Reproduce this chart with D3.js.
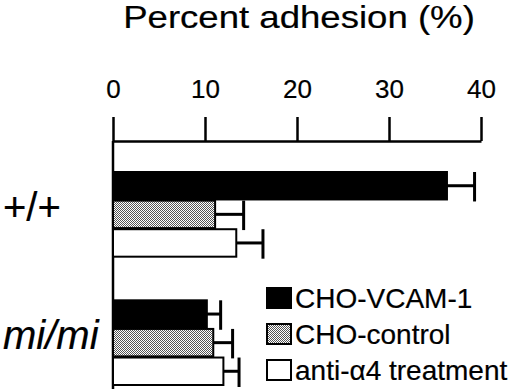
<!DOCTYPE html>
<html>
<head>
<meta charset="utf-8">
<script src="https://cdn.jsdelivr.net/npm/d3@7"></script>
<style>
  body { margin: 0; background: #fff; }
  svg { display: block; font-family: "Liberation Sans", Arial, Helvetica, sans-serif; }
  text { stroke: #000; stroke-width: 0.2px; }
</style>
</head>
<body>
<div id="chart"></div>
<script>
// data
const groups = ["+/+", "mi/mi"];
const seriesKeys = ["CHO-VCAM-1", "CHO-control", "anti-\u03b14 treatment"];
const meanWT = [36.3, 11.1, 13.4];
const errWT = [3.0, 3.1, 2.9];
const meanMi = [10.2, 10.9, 12.0];
const errMi = [1.5, 2.1, 1.7];
const xTicks = [0, 10, 20, 30, 40];

const width = 520, height = 389;
const margin = { top: 141, left: 113, right: 39, bottom: 4 };

const rows = [];
groups.forEach((g, gi) => {
  const means = gi === 0 ? meanWT : meanMi;
  const errs = gi === 0 ? errWT : errMi;
  seriesKeys.forEach((k, i) => rows.push({ group: g, key: k, value: means[i], err: errs[i] }));
});

const svg = d3.select("#chart").append("svg")
  .attr("width", width).attr("height", height);

const defs = svg.append("defs");
const pat = defs.append("pattern")
  .attr("id", "dots").attr("patternUnits", "userSpaceOnUse")
  .attr("width", 2).attr("height", 2);
pat.append("rect").attr("width", 2).attr("height", 2).attr("fill", "#fff");
pat.append("rect").attr("width", 1).attr("height", 1).attr("fill", "#555");
pat.append("rect").attr("x", 1).attr("y", 1).attr("width", 1).attr("height", 1).attr("fill", "#555");

const fills = d3.scaleOrdinal().domain(seriesKeys).range(["#000", "url(#dots)", "#fff"]);

const x = d3.scaleLinear().domain([0, 40]).range([margin.left, width - margin.right]);
const y0 = d3.scaleBand().domain(groups).range([172, 385]).paddingInner(0.34);
const y1 = d3.scaleBand().domain(seriesKeys).range([0, y0.bandwidth()]).paddingInner(0.04);

// title
svg.append("text")
  .attr("transform", `translate(${(x(0) + x(40)) / 2 + 2},28) scale(1.18,1)`)
  .attr("text-anchor", "middle")
  .attr("font-size", 31)
  .text("Percent adhesion (%)");

// top axis
svg.append("g")
  .attr("transform", `translate(0,${margin.top})`)
  .call(d3.axisTop(x).tickValues(xTicks).tickSize(24).tickPadding(19).tickSizeOuter(0))
  .call(g => g.select(".domain").attr("stroke-width", 2.5))
  .call(g => g.selectAll(".tick line").attr("stroke-width", 2.5))
  .call(g => g.selectAll(".tick text").attr("font-size", 26).attr("fill", "#000")
    .attr("font-family", "Liberation Sans, Arial, sans-serif"));

// left axis line
svg.append("line")
  .attr("x1", x(0)).attr("x2", x(0))
  .attr("y1", margin.top).attr("y2", height)
  .attr("stroke", "#000").attr("stroke-width", 2.5);

// bars
const barG = svg.append("g");
barG.selectAll("rect")
  .data(rows)
  .join("rect")
  .attr("x", x(0))
  .attr("y", d => y0(d.group) + y1(d.key))
  .attr("width", d => x(d.value) - x(0))
  .attr("height", y1.bandwidth())
  .attr("fill", d => fills(d.key))
  .attr("stroke", "#000")
  .attr("stroke-width", 2);

// error bars (positive side only)
const errG = svg.append("g").attr("stroke", "#000").attr("stroke-width", 3);
errG.selectAll(".err-h")
  .data(rows)
  .join("line")
  .attr("class", "err-h")
  .attr("x1", d => x(d.value))
  .attr("x2", d => x(d.value + d.err))
  .attr("y1", d => y0(d.group) + y1(d.key) + y1.bandwidth() / 2)
  .attr("y2", d => y0(d.group) + y1(d.key) + y1.bandwidth() / 2);
errG.selectAll(".err-cap")
  .data(rows)
  .join("line")
  .attr("class", "err-cap")
  .attr("x1", d => x(d.value + d.err))
  .attr("x2", d => x(d.value + d.err))
  .attr("y1", d => y0(d.group) + y1(d.key))
  .attr("y2", d => y0(d.group) + y1(d.key) + y1.bandwidth() + 2);

// group labels
svg.append("g")
  .selectAll("text")
  .data(groups)
  .join("text")
  .attr("x", 3)
  .attr("y", d => y0(d) + y0.bandwidth() / 2)
  .attr("dy", "0.17em")
  .attr("font-size", 40)
  .attr("font-style", (d, i) => (i === 1 ? "italic" : "normal"))
  .text(d => d);

// legend
const legend = svg.append("g")
  .selectAll("g")
  .data(seriesKeys)
  .join("g")
  .attr("transform", (d, i) => `translate(266,${308 + i * 36})`);
legend.append("rect")
  .attr("x", 1).attr("y", -20)
  .attr("width", 24).attr("height", 20)
  .attr("fill", d => fills(d))
  .attr("stroke", "#000").attr("stroke-width", 2);
legend.append("text")
  .attr("x", 29)
  .attr("font-size", 28)
  .text(d => d);
</script>
</body>
</html>
